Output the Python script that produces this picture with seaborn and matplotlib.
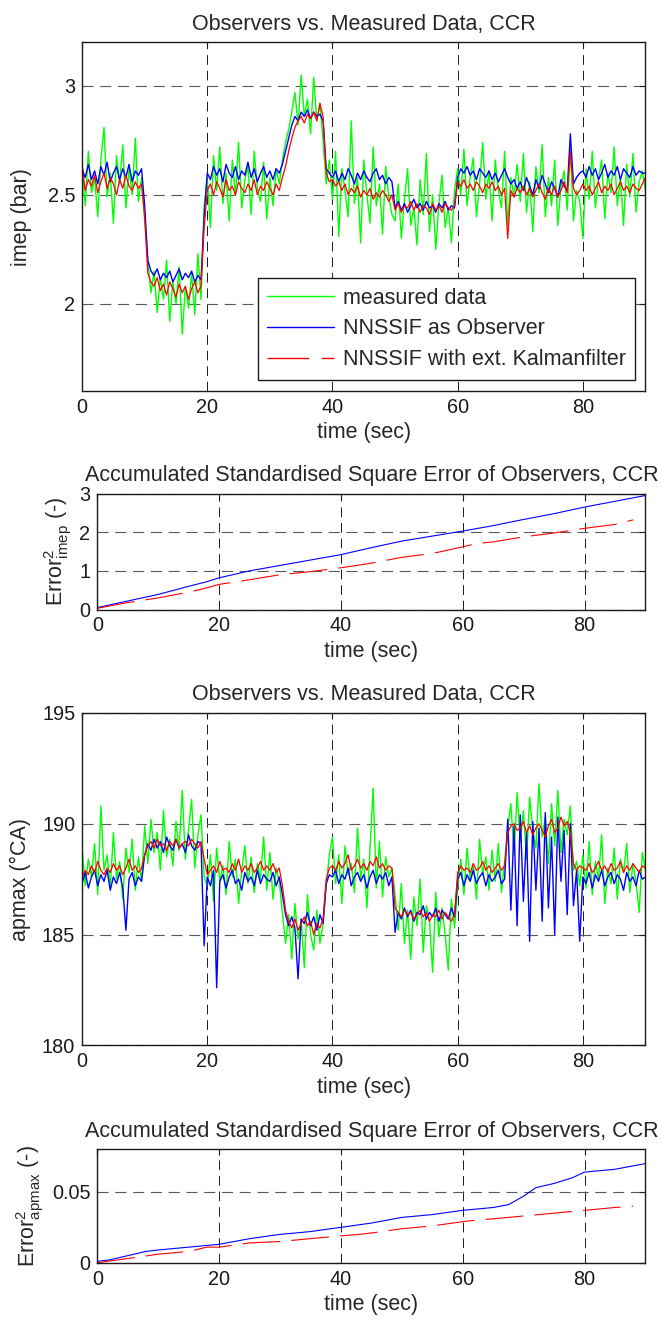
import numpy as np
import pandas as pd
import matplotlib.pyplot as plt
from matplotlib.lines import Line2D
import seaborn as sns

sns.set_theme(style='white')
plt.rcParams['font.family'] = ['Liberation Sans', 'DejaVu Sans']
plt.rcParams['mathtext.fontset'] = 'custom'
plt.rcParams['mathtext.rm'] = 'Liberation Sans'
plt.rcParams['mathtext.it'] = 'Liberation Sans:italic'

# sampling instants of the recorded cycles (sec)
time = np.linspace(0, 90, 181)

# imep (bar)
imep_measured = [
    2.62, 2.45, 2.70, 2.51, 2.58, 2.40, 2.66, 2.81, 2.49, 2.60, 2.37, 2.68, 2.55, 2.73, 2.44, 2.62, 2.50, 2.76, 2.47, 2.58,
    2.38, 2.20, 2.05, 2.15, 1.96, 2.12, 2.02, 2.20, 1.92, 2.10, 2.00, 2.17, 1.86, 2.08, 1.98, 2.14, 1.95, 2.23, 2.02, 2.45,
    2.58, 2.35, 2.68, 2.52, 2.72, 2.46, 2.60, 2.38, 2.66, 2.50, 2.74, 2.44, 2.57, 2.63, 2.41, 2.70, 2.53, 2.47, 2.65, 2.39,
    2.58, 2.45, 2.62, 2.55, 2.66, 2.74, 2.80, 2.88, 2.97, 2.82, 3.05, 2.86, 2.94, 2.78, 3.04, 2.84, 2.92, 2.75, 2.55, 2.66,
    2.48, 2.70, 2.31, 2.62, 2.52, 2.40, 2.84, 2.46, 2.58, 2.28, 2.66, 2.50, 2.37, 2.72, 2.45, 2.55, 2.32, 2.63, 2.49, 2.41,
    2.38, 2.55, 2.30, 2.48, 2.62, 2.36, 2.44, 2.27, 2.57, 2.41, 2.69, 2.33, 2.50, 2.25, 2.46, 2.59, 2.35, 2.44, 2.28, 2.52,
    2.62, 2.50, 2.71, 2.45, 2.58, 2.67, 2.40, 2.55, 2.74, 2.48, 2.61, 2.38, 2.66, 2.52, 2.44, 2.70, 2.36, 2.58, 2.49, 2.64,
    2.47, 2.69, 2.42, 2.56, 2.33, 2.63, 2.51, 2.73, 2.40, 2.58, 2.45, 2.66, 2.36, 2.54, 2.61, 2.43, 2.71, 2.38, 2.52, 2.47,
    2.30, 2.62, 2.48, 2.70, 2.44, 2.57, 2.66, 2.39, 2.60, 2.51, 2.72, 2.45, 2.58, 2.36, 2.64, 2.49, 2.69, 2.42, 2.56, 2.61, 2.52,
]
imep_observer = [
    2.62, 2.58, 2.64, 2.57, 2.61, 2.55, 2.63, 2.59, 2.65, 2.56, 2.60, 2.63, 2.57, 2.62, 2.58, 2.64, 2.56, 2.61, 2.59, 2.62,
    2.45, 2.20, 2.15, 2.13, 2.16, 2.11, 2.14, 2.12, 2.15, 2.10, 2.13, 2.16, 2.11, 2.14, 2.12, 2.15, 2.10, 2.13, 2.11, 2.40,
    2.60, 2.57, 2.63, 2.59, 2.62, 2.56, 2.64, 2.60, 2.58, 2.63, 2.57, 2.61, 2.59, 2.65, 2.58, 2.62, 2.56, 2.60, 2.63, 2.58,
    2.61, 2.57, 2.62, 2.60, 2.64, 2.70, 2.76, 2.82, 2.86, 2.84, 2.88, 2.86, 2.89, 2.85, 2.88, 2.86, 2.87, 2.84, 2.62, 2.60,
    2.58, 2.61, 2.56, 2.60, 2.57, 2.62, 2.59, 2.55, 2.60, 2.57, 2.61, 2.58, 2.56, 2.60, 2.62, 2.57, 2.59, 2.55, 2.58, 2.56,
    2.44, 2.47, 2.43, 2.46, 2.42, 2.45, 2.48, 2.44, 2.46, 2.43, 2.47, 2.44, 2.45, 2.42, 2.46, 2.44, 2.47, 2.43, 2.45, 2.44,
    2.58, 2.62, 2.60, 2.63, 2.59, 2.61, 2.57, 2.62, 2.60, 2.58, 2.61, 2.57, 2.60, 2.56, 2.59, 2.62, 2.58, 2.55, 2.57, 2.53,
    2.56, 2.52, 2.58, 2.54, 2.50, 2.57, 2.53, 2.59, 2.55, 2.51, 2.56, 2.53, 2.49, 2.57, 2.54, 2.52, 2.78, 2.55, 2.58, 2.60,
    2.61, 2.58, 2.63, 2.59, 2.62, 2.57, 2.60, 2.64, 2.58, 2.61, 2.59, 2.63, 2.57, 2.62, 2.60, 2.58, 2.63, 2.59, 2.61, 2.60, 2.60,
]
imep_kalman = [
    2.64, 2.52, 2.57, 2.54, 2.59, 2.51, 2.56, 2.60, 2.53, 2.58, 2.55, 2.50, 2.57, 2.53, 2.59, 2.54, 2.52, 2.56, 2.53, 2.55,
    2.40, 2.14, 2.10, 2.08, 2.12, 2.06, 2.09, 2.04, 2.10, 2.07, 2.03, 2.09, 2.05, 2.08, 2.02, 2.07, 2.10, 2.05, 2.08, 2.35,
    2.52, 2.55, 2.50, 2.56, 2.53, 2.49, 2.57, 2.52, 2.54, 2.50, 2.56, 2.53, 2.51, 2.55, 2.52, 2.57, 2.50, 2.54, 2.52, 2.56,
    2.53, 2.50, 2.55, 2.52, 2.58, 2.63, 2.70, 2.76, 2.81, 2.84, 2.86, 2.83, 2.87, 2.85, 2.88, 2.84, 2.92, 2.86, 2.60, 2.56,
    2.57, 2.54, 2.56, 2.52, 2.55, 2.50, 2.53, 2.51, 2.54, 2.49, 2.52, 2.50, 2.53, 2.48, 2.51, 2.49, 2.52, 2.50, 2.47, 2.50,
    2.43, 2.46, 2.42, 2.45, 2.44, 2.47, 2.43, 2.46, 2.42, 2.45, 2.44, 2.41, 2.46, 2.43, 2.45, 2.42, 2.46, 2.44, 2.43, 2.45,
    2.56, 2.54, 2.57, 2.53, 2.55, 2.52, 2.56, 2.54, 2.51, 2.55, 2.53, 2.56, 2.52, 2.54, 2.50, 2.53, 2.30, 2.52, 2.49, 2.53,
    2.51, 2.54, 2.50, 2.53, 2.49, 2.52, 2.55, 2.51, 2.48, 2.53, 2.50, 2.54, 2.49, 2.52, 2.56, 2.51, 2.70, 2.53, 2.50, 2.52,
    2.55, 2.52, 2.54, 2.50, 2.53, 2.56, 2.51, 2.54, 2.52, 2.55, 2.50, 2.53, 2.56, 2.52, 2.54, 2.51, 2.55, 2.53, 2.52, 2.55, 2.58,
]

# apmax (deg CA)
apmax_measured = [
    188.9, 187.2, 188.4, 187.6, 189.1, 186.8, 190.8, 187.9, 188.6, 187.1, 189.6, 187.5, 188.3, 186.6, 188.9, 187.8, 189.3, 187.0, 188.5, 187.4,
    189.9, 188.2, 190.2, 188.7, 189.6, 187.9, 190.6, 188.5, 189.3, 188.1, 190.1, 188.8, 191.5, 188.4, 189.7, 191.1, 188.0, 189.5, 190.4, 187.6,
    187.2, 188.6, 186.5, 188.9, 187.4, 188.1, 186.8, 189.2, 187.6, 188.4, 186.4, 187.9, 189.0, 187.3, 188.5, 186.9, 188.2, 187.5, 189.4, 187.0,
    188.7, 186.6, 188.0, 187.4, 186.0, 184.6, 185.9, 183.9, 186.4, 184.8, 185.7, 183.5, 186.8, 185.0, 184.3, 186.1, 184.6, 185.5, 187.2, 188.6,
    189.4, 187.3, 188.6, 186.4, 189.0, 187.7, 188.2, 186.9, 189.8, 187.5, 188.4, 186.2, 188.9, 191.6, 187.1, 189.2, 186.7, 188.5, 187.6, 188.0,
    186.8, 185.2, 187.3, 184.6, 186.1, 183.9, 186.7, 185.4, 187.5, 184.2, 186.3, 185.6, 183.3, 186.9, 184.9, 186.2, 185.0, 183.4, 186.6, 185.3,
    187.1, 188.4, 186.8, 188.9, 187.5, 188.2, 186.6, 189.3, 187.7, 188.5, 187.0, 188.8, 187.4, 189.1, 186.9, 188.3, 189.8, 190.9, 188.6, 191.4,
    189.2, 190.6, 188.4, 191.2, 189.7, 188.9, 191.8, 189.4, 190.3, 188.2, 190.9, 189.0, 191.5, 188.7, 190.2, 189.5, 190.8, 187.9, 188.3, 187.2,
    188.6, 187.1, 189.2, 186.8, 188.3, 187.5, 189.5, 186.4, 188.0, 187.3, 188.9, 186.6, 188.4, 187.8, 189.1, 186.9, 188.2, 187.4, 186.0, 188.7, 187.9,
]
apmax_observer = [
    187.3, 187.8, 187.1, 187.6, 187.9, 187.2, 187.7, 187.4, 187.9, 187.0, 187.6, 187.3, 187.8, 187.1, 185.2, 187.5, 187.8, 187.2, 187.6, 187.4,
    188.6, 189.1, 188.8, 189.3, 188.9, 189.2, 188.7, 189.4, 189.0, 188.8, 189.3, 188.9, 189.1, 188.7, 189.5, 189.0, 188.8, 189.2, 189.1, 184.5,
    187.6, 187.2, 187.9, 182.6, 187.4, 187.7, 187.1, 187.6, 187.9, 187.3, 187.5, 187.0, 187.8, 187.4, 187.6, 187.2, 187.9, 187.3, 187.7, 187.5,
    187.4, 187.8, 187.2, 187.6, 186.8, 185.9, 185.4, 185.8, 185.3, 183.0, 185.7, 185.5, 186.0, 185.4, 185.8, 185.2, 185.9, 185.5, 187.3, 187.7,
    187.6, 187.9, 187.3, 187.7, 187.5, 188.0, 187.2, 187.6, 187.8, 187.4, 187.7, 187.1, 187.6, 187.9, 187.3, 187.7, 187.5, 187.8, 187.2, 187.6,
    185.1, 186.0, 185.7, 186.2, 185.8, 186.1, 185.6, 186.0, 185.9, 186.3, 185.7, 186.0, 185.8, 186.2, 185.6, 186.1, 185.9, 185.7, 186.2, 185.8,
    187.5, 187.8, 187.2, 187.7, 187.4, 187.9, 187.3, 187.6, 187.8, 187.2, 187.7, 187.4, 187.6, 187.9, 187.3, 187.5, 190.2, 186.1, 189.9, 185.4,
    190.4, 186.5, 189.6, 184.7, 190.1, 187.0, 189.8, 185.6, 190.5, 186.2, 189.4, 185.0, 190.3, 187.4, 189.7, 185.9, 190.0, 186.3, 187.9, 184.7,
    187.6, 187.3, 187.8, 187.1, 187.7, 187.4, 187.9, 187.2, 187.6, 187.8, 187.3, 187.7, 187.5, 187.0, 187.8, 187.4, 187.6, 187.2, 187.9, 187.5, 187.6,
]
apmax_kalman = [
    187.6, 187.9, 187.7, 188.1, 187.8, 188.3, 187.9, 187.7, 188.0, 187.8, 188.2, 187.9, 188.1, 187.7, 188.0, 188.4, 187.9, 188.1, 187.8, 188.0,
    188.6, 189.0, 189.2, 188.9, 189.3, 189.0, 189.1, 188.8, 189.2, 189.0, 189.3, 188.9, 189.1, 189.2, 189.0, 189.3, 189.1, 188.9, 189.2, 188.4,
    187.7, 187.9, 188.1, 187.8, 188.3, 187.9, 188.0, 187.8, 188.2, 187.9, 188.4, 187.8, 188.1, 187.9, 188.2, 187.8, 188.0, 188.3, 187.9, 188.1,
    187.9, 188.2, 187.8, 188.0, 187.2, 186.1, 185.6, 185.3, 185.7, 185.2, 185.5, 185.8, 185.4, 185.6, 185.0, 185.5, 185.3, 185.7, 187.5, 188.0,
    188.1, 187.9, 188.3, 188.0, 188.2, 188.6, 187.9, 188.1, 188.4, 188.0, 188.2, 187.9, 188.3, 188.1, 188.5, 188.0, 188.2, 187.9, 188.1, 188.0,
    186.2, 186.0, 185.8, 186.1, 185.9, 186.0, 185.7, 185.9, 186.1, 185.8, 186.0, 185.6, 185.9, 185.8, 186.1, 185.7, 186.0, 185.8, 185.6, 185.9,
    187.8, 188.1, 187.9, 188.0, 187.8, 188.2, 187.9, 188.0, 188.3, 187.9, 188.1, 187.8, 188.0, 188.2, 187.9, 188.1, 189.6, 189.9, 190.0, 189.7,
    189.8, 190.1, 189.6, 189.9, 189.5, 189.8, 190.0, 189.7, 189.4, 189.9, 190.2, 189.6, 189.8, 190.3, 189.9, 190.1, 189.6, 188.2, 187.9, 188.1,
    188.0, 187.9, 188.2, 187.8, 188.0, 188.3, 187.9, 188.1, 187.8, 188.2, 187.9, 188.0, 188.3, 187.8, 188.1, 187.9, 188.2, 188.0, 187.8, 188.1, 188.0,
]

# accumulated standardised square error
imep_err_time_obs = [0, 5, 10, 15, 18, 20, 25, 30, 35, 40, 45, 50, 55, 60, 65, 70, 75, 80, 85, 90]
imep_err_obs = [0.05, 0.22, 0.39, 0.60, 0.72, 0.82, 1.00, 1.14, 1.28, 1.42, 1.60, 1.77, 1.90, 2.03, 2.17, 2.33, 2.48, 2.65, 2.80, 2.95]
imep_err_time_kf = [0, 5, 10, 15, 17, 20, 25, 30, 35, 40, 43, 45, 50, 55, 60, 62, 65, 70, 75, 80, 85, 88]
imep_err_kf = [0.03, 0.18, 0.30, 0.45, 0.52, 0.65, 0.77, 0.90, 0.98, 1.08, 1.15, 1.20, 1.35, 1.45, 1.62, 1.70, 1.75, 1.88, 1.98, 2.10, 2.20, 2.32]

apmax_err_time_obs = [0, 2, 5, 8, 10, 15, 20, 25, 30, 35, 40, 45, 50, 55, 60, 65, 67.5, 70, 72, 75, 78, 80, 85, 90]
apmax_err_obs = [0.001, 0.002, 0.005, 0.008, 0.009, 0.011, 0.013, 0.017, 0.020, 0.022, 0.025, 0.028, 0.032, 0.034,
                 0.037, 0.039, 0.041, 0.047, 0.053, 0.056, 0.060, 0.064, 0.066, 0.070]
apmax_err_time_kf = [0, 5, 10, 15, 18, 20, 25, 30, 35, 40, 43, 45, 50, 55, 60, 62, 65, 70, 75, 80, 85, 88]
apmax_err_kf = [0.000, 0.003, 0.006, 0.008, 0.011, 0.011, 0.014, 0.015, 0.017, 0.019, 0.020, 0.021, 0.024, 0.026,
                0.029, 0.030, 0.031, 0.033, 0.035, 0.037, 0.039, 0.040]

labels = ['measured data', 'NNSSIF as Observer', 'NNSSIF with ext. Kalmanfilter']
GREEN, BLUE, RED = '#00ff00', '#0000ff', '#ff0000'
RED_DASH = (0, (34, 10))
FS = 15.5
FS_TICK = 14.3
title_main = 'Observers vs. Measured Data, CCR'
title_err = 'Accumulated Standardised Square Error of Observers, CCR'

fig = plt.figure(figsize=(6.62, 13.25), dpi=100)
ax1 = fig.add_axes([0.124, 0.705, 0.851, 0.263])
ax2 = fig.add_axes([0.147, 0.540, 0.828, 0.0875])
ax3 = fig.add_axes([0.124, 0.211, 0.851, 0.251])
ax4 = fig.add_axes([0.147, 0.047, 0.828, 0.0855])


def style_axes(ax, ylim, yticks, ylabel, title, labelpad):
    ax.set_xlim(0, 90)
    ax.set_ylim(*ylim)
    ax.set_xticks([0, 20, 40, 60, 80])
    ax.set_yticks(yticks)
    ax.set_xlabel('time (sec)', fontsize=FS, labelpad=4)
    ax.set_ylabel(ylabel, fontsize=FS, labelpad=labelpad)
    ax.set_title(title, fontsize=FS, pad=9)
    ax.tick_params(direction='in', length=4, width=0.8, top=True, right=True,
                   labelsize=FS_TICK, pad=5, colors='k')
    for sp in ax.spines.values():
        sp.set_linewidth(1.0)
        sp.set_color('k')
    ax.set_axisbelow(True)
    ax.grid(True, axis='x', color='k', lw=0.7, ls=(0, (10, 6)))
    ax.grid(True, axis='y', color='0.35', lw=0.8, ls=(0, (10, 6)))


def draw_signals(ax, measured, observer, kalman):
    df = pd.DataFrame({'time': time, 'measured': measured, 'observer': observer, 'kalman': kalman})
    kw = dict(ax=ax, estimator=None, sort=False, legend=False)
    sns.lineplot(data=df, x='time', y='measured', color=GREEN, lw=1.0, **kw)
    sns.lineplot(data=df, x='time', y='observer', color=BLUE, lw=1.0, **kw)
    sns.lineplot(data=df, x='time', y='kalman', color=RED, lw=0.9, **kw)


def draw_errors(ax, t_obs, e_obs, t_kf, e_kf):
    sns.lineplot(x=t_obs, y=e_obs, ax=ax, color=BLUE, lw=0.8, estimator=None, sort=False)
    sns.lineplot(x=t_kf, y=e_kf, ax=ax, color=RED, lw=0.8, linestyle=RED_DASH, estimator=None, sort=False)


draw_signals(ax1, imep_measured, imep_observer, imep_kalman)
style_axes(ax1, (1.6, 3.2), [2, 2.5, 3], 'imep (bar)', title_main, 11)
ax1.set_yticklabels(['2', '2.5', '3'])
handles = [Line2D([], [], color=GREEN, lw=1.0),
           Line2D([], [], color=BLUE, lw=1.0),
           Line2D([], [], color=RED, lw=1.0, ls=(0, (30, 9)))]
leg = ax1.legend(handles, labels, loc='lower right', bbox_to_anchor=(0.982, 0.032), borderaxespad=0,
                 fontsize=FS, frameon=True, fancybox=False, edgecolor='k',
                 handlelength=3.1, handletextpad=0.4, borderpad=0.45, labelspacing=0.45)
leg.get_frame().set_linewidth(1.0)
leg.get_frame().set_alpha(1)

draw_errors(ax2, imep_err_time_obs, imep_err_obs, imep_err_time_kf, imep_err_kf)
style_axes(ax2, (0, 3), [0, 1, 2, 3], r'Error$^{2}_{\mathrm{imep}}$ (-)', title_err, 4)

draw_signals(ax3, apmax_measured, apmax_observer, apmax_kalman)
style_axes(ax3, (180, 195), [180, 185, 190, 195], 'apmax (°CA)', title_main, 8)

draw_errors(ax4, apmax_err_time_obs, apmax_err_obs, apmax_err_time_kf, apmax_err_kf)
style_axes(ax4, (0, 0.08), [0, 0.05], r'Error$^{2}_{\mathrm{apmax}}$ (-)', title_err, 4)
ax4.set_yticklabels(['0', '0.05'])

fig.savefig('out.png', dpi=100)
